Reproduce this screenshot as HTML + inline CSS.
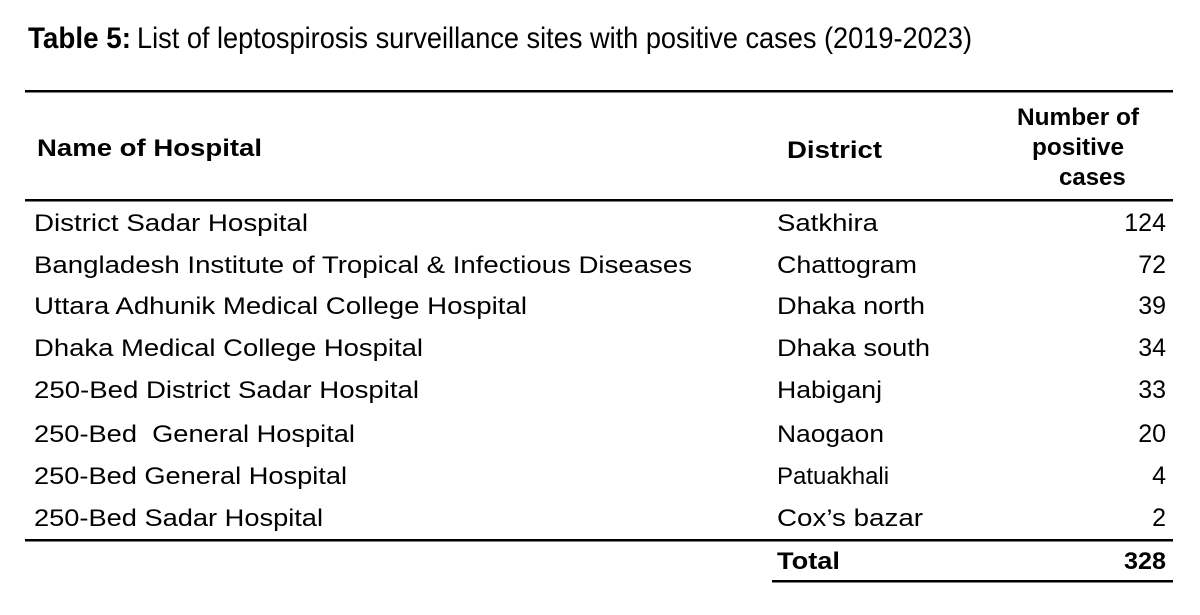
<!DOCTYPE html>
<html><head><meta charset="utf-8"><style>html,body{margin:0;padding:0;background:#fff}svg{display:block}</style></head>
<body>
<svg width="1200" height="615" viewBox="0 0 1200 615" xmlns="http://www.w3.org/2000/svg" font-family="Liberation Sans, Arial, sans-serif" fill="#000">
<text x="28" y="48" font-size="30" font-weight="bold" textLength="103" lengthAdjust="spacingAndGlyphs">Table 5:</text>
<text x="137" y="48" font-size="30" textLength="835" lengthAdjust="spacingAndGlyphs">List of leptospirosis surveillance sites with positive cases (2019-2023)</text>
<rect x="25" y="90" width="1148" height="2.5"/>
<rect x="25" y="199" width="1148" height="2.5"/>
<rect x="25" y="539" width="1148" height="2.5"/>
<rect x="772" y="580" width="401" height="2.5"/>
<g font-size="24" font-weight="bold">
<text x="37" y="156" textLength="225" lengthAdjust="spacingAndGlyphs">Name of Hospital</text>
<text x="787" y="158" textLength="95" lengthAdjust="spacingAndGlyphs">District</text>
<text x="1017" y="125" textLength="122" lengthAdjust="spacingAndGlyphs">Number of</text>
<text x="1032" y="155" textLength="92" lengthAdjust="spacingAndGlyphs">positive</text>
<text x="1059" y="185">cases</text>
<text x="777" y="569" textLength="63" lengthAdjust="spacingAndGlyphs">Total</text>
<text x="1124" y="569" textLength="42" lengthAdjust="spacingAndGlyphs">328</text>
</g>
<g font-size="24">
<text x="34" y="231" textLength="274" lengthAdjust="spacingAndGlyphs">District Sadar Hospital</text>
<text x="34" y="273" textLength="658" lengthAdjust="spacingAndGlyphs">Bangladesh Institute of Tropical &amp; Infectious Diseases</text>
<text x="34" y="314" textLength="493" lengthAdjust="spacingAndGlyphs">Uttara Adhunik Medical College Hospital</text>
<text x="34" y="356" textLength="389" lengthAdjust="spacingAndGlyphs">Dhaka Medical College Hospital</text>
<text x="34" y="398" textLength="385" lengthAdjust="spacingAndGlyphs">250-Bed District Sadar Hospital</text>
<text x="34" y="442" xml:space="preserve" textLength="321" lengthAdjust="spacingAndGlyphs">250-Bed  General Hospital</text>
<text x="34" y="484" textLength="313" lengthAdjust="spacingAndGlyphs">250-Bed General Hospital</text>
<text x="34" y="526" textLength="289" lengthAdjust="spacingAndGlyphs">250-Bed Sadar Hospital</text>
<text x="777" y="231" textLength="101" lengthAdjust="spacingAndGlyphs">Satkhira</text>
<text x="777" y="273" textLength="140" lengthAdjust="spacingAndGlyphs">Chattogram</text>
<text x="777" y="314" textLength="148" lengthAdjust="spacingAndGlyphs">Dhaka north</text>
<text x="777" y="356" textLength="153" lengthAdjust="spacingAndGlyphs">Dhaka south</text>
<text x="777" y="398" textLength="105" lengthAdjust="spacingAndGlyphs">Habiganj</text>
<text x="777" y="442" textLength="107" lengthAdjust="spacingAndGlyphs">Naogaon</text>
<text x="777" y="484">Patuakhali</text>
<text x="777" y="526" textLength="146" lengthAdjust="spacingAndGlyphs">Cox’s bazar</text>
<g text-anchor="end" font-size="25">
<text x="1166" y="231">124</text>
<text x="1166" y="273">72</text>
<text x="1166" y="314">39</text>
<text x="1166" y="356">34</text>
<text x="1166" y="398">33</text>
<text x="1166" y="442">20</text>
<text x="1166" y="484">4</text>
<text x="1166" y="526">2</text>
</g>
</g>
</svg>
</body></html>
